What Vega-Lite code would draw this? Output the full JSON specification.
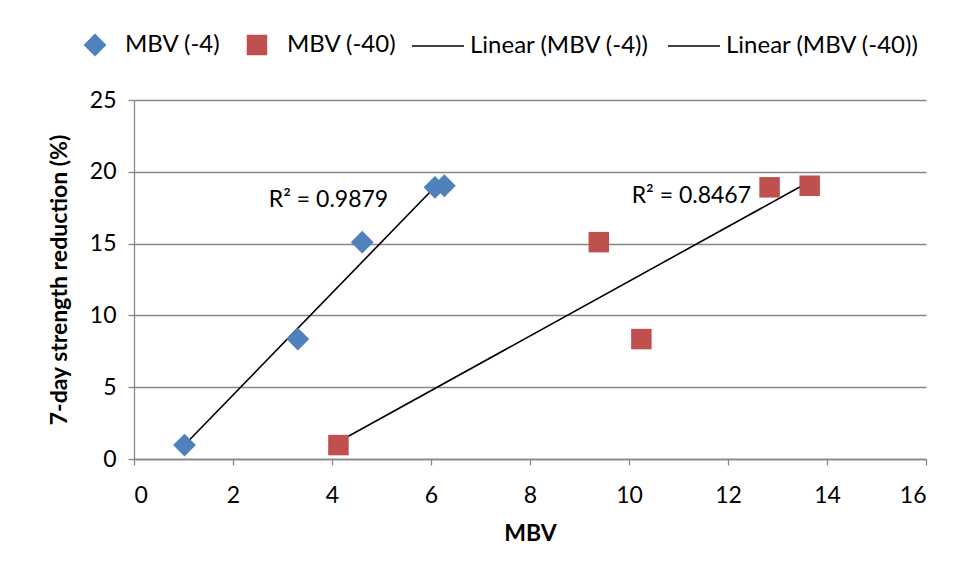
{
  "$schema": "https://vega.github.io/schema/vega-lite/v6.json",
  "autosize": "none",
  "width": 792,
  "height": 359,
  "padding": {"left": 134, "top": 100, "right": 31, "bottom": 122},
  "background": "white",
  "config": {
    "font": "Lato",
    "view": {"stroke": null},
    "axis": {
      "labelFont": "Lato",
      "labelFontSize": 23,
      "labelColor": "#000000",
      "titleFont": "Lato",
      "titleFontSize": 23,
      "titleFontWeight": "bold",
      "titleColor": "#000000",
      "gridColor": "#878787",
      "gridWidth": 1.3,
      "domainColor": "#878787",
      "domainWidth": 1.3,
      "tickColor": "#878787",
      "tickWidth": 1.3,
      "tickSize": 6
    },
    "legend": {
      "labelFont": "Lato",
      "labelFontSize": 24,
      "labelColor": "#000000",
      "labelLimit": 0
    }
  },
  "data": {
    "values": [
      {"series": "MBV (-4)", "fit": "Linear (MBV (-4))", "mbv": 1.02, "reduction": 0.97},
      {"series": "MBV (-4)", "fit": "Linear (MBV (-4))", "mbv": 3.31, "reduction": 8.35},
      {"series": "MBV (-4)", "fit": "Linear (MBV (-4))", "mbv": 4.61, "reduction": 15.1},
      {"series": "MBV (-4)", "fit": "Linear (MBV (-4))", "mbv": 6.08, "reduction": 18.92},
      {"series": "MBV (-4)", "fit": "Linear (MBV (-4))", "mbv": 6.27, "reduction": 19.03},
      {"series": "MBV (-40)", "fit": "Linear (MBV (-40))", "mbv": 4.13, "reduction": 0.97},
      {"series": "MBV (-40)", "fit": "Linear (MBV (-40))", "mbv": 9.39, "reduction": 15.1},
      {"series": "MBV (-40)", "fit": "Linear (MBV (-40))", "mbv": 10.25, "reduction": 8.35},
      {"series": "MBV (-40)", "fit": "Linear (MBV (-40))", "mbv": 12.84, "reduction": 18.92},
      {"series": "MBV (-40)", "fit": "Linear (MBV (-40))", "mbv": 13.65, "reduction": 19.03}
    ]
  },
  "layer": [
    {
      "transform": [
        {"regression": "reduction", "on": "mbv", "groupby": ["fit"]}
      ],
      "mark": {"type": "line", "strokeWidth": 1.6},
      "encoding": {
        "x": {"field": "mbv", "type": "quantitative"},
        "y": {"field": "reduction", "type": "quantitative"},
        "stroke": {
          "field": "fit",
          "type": "nominal",
          "scale": {"domain": ["Linear (MBV (-4))", "Linear (MBV (-40))"], "range": ["#000000", "#000000"]},
          "legend": {
            "title": null,
            "orient": "none",
            "direction": "horizontal",
            "legendX": 277,
            "legendY": -81,
            "symbolSize": 2704,
            "symbolStrokeWidth": 1.6,
            "labelOffset": 5,
            "columnPadding": 14
          }
        }
      }
    },
    {
      "mark": {"type": "point", "filled": true, "opacity": 1, "strokeWidth": 0},
      "encoding": {
        "x": {
          "field": "mbv",
          "type": "quantitative",
          "scale": {"domain": [0, 16], "nice": false, "zero": false},
          "axis": {
            "title": "MBV",
            "values": [0, 2, 4, 6, 8, 10, 12, 14, 16],
            "grid": false,
            "labelPadding": 19,
            "titlePadding": 15
          }
        },
        "y": {
          "field": "reduction",
          "type": "quantitative",
          "scale": {"domain": [0, 25], "nice": false},
          "axis": {
            "title": "7-day strength reduction (%)",
            "values": [0, 5, 10, 15, 20, 25],
            "grid": true,
            "labelPadding": 12,
            "titlePadding": 18
          }
        },
        "color": {
          "field": "series",
          "type": "nominal",
          "scale": {"domain": ["MBV (-4)", "MBV (-40)"], "range": ["#4F81BD", "#C0504D"]},
          "legend": {
            "title": null,
            "orient": "none",
            "direction": "horizontal",
            "legendX": -51,
            "legendY": -67,
            "symbolSize": 280,
            "symbolStrokeWidth": 0,
            "labelOffset": 18,
            "columnPadding": 24
          }
        },
        "shape": {
          "field": "series",
          "type": "nominal",
          "scale": {"domain": ["MBV (-4)", "MBV (-40)"], "range": ["diamond", "square"]},
          "legend": {
            "title": null,
            "orient": "none",
            "direction": "horizontal",
            "legendX": -51,
            "legendY": -67,
            "symbolSize": 280,
            "symbolStrokeWidth": 0,
            "labelOffset": 18,
            "columnPadding": 24
          }
        },
        "size": {
          "field": "series",
          "type": "nominal",
          "scale": {"domain": ["MBV (-4)", "MBV (-40)"], "range": [520, 420]},
          "legend": null
        }
      }
    },
    {
      "data": {
        "values": [
          {"label": "R² = 0.9879", "mbv": 3.93, "reduction": 18.04},
          {"label": "R² = 0.8467", "mbv": 11.26, "reduction": 18.31}
        ]
      },
      "mark": {"type": "text", "font": "Lato", "fontSize": 23, "color": "#000000", "align": "center", "baseline": "middle"},
      "encoding": {
        "x": {"field": "mbv", "type": "quantitative"},
        "y": {"field": "reduction", "type": "quantitative"},
        "text": {"field": "label"}
      }
    }
  ]
}
